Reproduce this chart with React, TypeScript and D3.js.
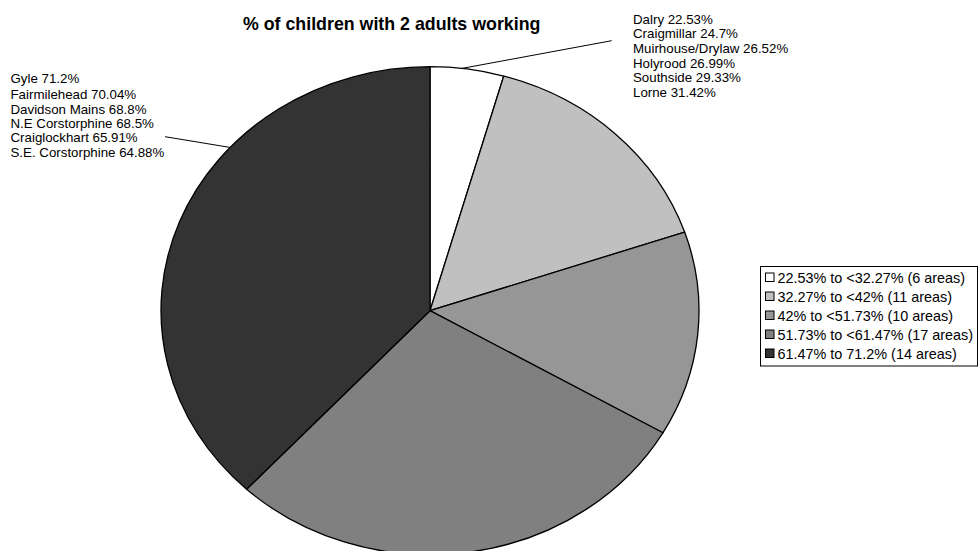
import React from "react";
import * as d3 from "d3";

const title = "% of children with 2 adults working";
const classLabels = [
  "22.53% to <32.27% (6 areas)",
  "32.27% to <42% (11 areas)",
  "42% to <51.73% (10 areas)",
  "51.73% to <61.47% (17 areas)",
  "61.47% to 71.2% (14 areas)",
];
const sliceShares = [4.42, 15.36, 13.56, 28.6, 38.06];
const classColors = ["#ffffff", "#c0c0c0", "#969696", "#808080", "#333333"];
const lowLabels = [
  "Dalry 22.53%",
  "Craigmillar 24.7%",
  "Muirhouse/Drylaw 26.52%",
  "Holyrood 26.99%",
  "Southside 29.33%",
  "Lorne 31.42%",
];
const highLabels = [
  "Gyle 71.2%",
  "Fairmilehead 70.04%",
  "Davidson Mains 68.8%",
  "N.E Corstorphine 68.5%",
  "Craiglockhart 65.91%",
  "S.E. Corstorphine 64.88%",
];

const W = 980;
const H = 551;
const cx = 430;
const cy = 310.7;
const rx = 269;
const ry = 244;
const FONT = "Liberation Sans, Arial, sans-serif";

function pt(a: number): [number, number] {
  return [cx + rx * Math.sin(a), cy - ry * Math.cos(a)];
}

export default function App() {
  const pie = d3
    .pie<number>()
    .sort(null)
    .value((d) => d)
    .startAngle(0)
    .endAngle(2 * Math.PI);
  const arcs = pie(sliceShares);

  const slicePath = (s: number, e: number) => {
    const [x0, y0] = pt(s);
    const [x1, y1] = pt(e);
    const large = e - s > Math.PI ? 1 : 0;
    return `M${cx},${cy}L${x0},${y0}A${rx},${ry} 0 ${large} 1 ${x1},${y1}Z`;
  };

  const lowAnchor = pt((arcs[0].startAngle + arcs[0].endAngle) / 2 - 0.02);
  const highAnchor = pt((312 * Math.PI) / 180);

  const legendY = d3.scaleBand<number>().domain(d3.range(classLabels.length)).range([268, 363]);

  return (
    <svg
      width={W}
      height={H}
      style={{ position: "absolute", left: 0, top: 0, display: "block", background: "#fff" }}
      fontFamily={FONT}
    >
      {arcs.map((a, i) => (
        <path
          key={i}
          d={slicePath(a.startAngle, a.endAngle)}
          fill={classColors[i]}
          stroke="#000"
          strokeWidth={1.3}
          strokeLinejoin="round"
        />
      ))}
      <text x={391.7} y={30} textAnchor="middle" fontSize={17.8} fontWeight="bold" fill="#000">
        {title}
      </text>
      <line x1={lowAnchor[0]} y1={lowAnchor[1]} x2={611.7} y2={40.7} stroke="#000" strokeWidth={1} />
      <line x1={highAnchor[0]} y1={highAnchor[1]} x2={165} y2={136.7} stroke="#000" strokeWidth={1} />
      {lowLabels.map((t, i) => (
        <text key={t} x={633} y={23.5 + i * 14.7} fontSize={13.3} fill="#000">
          {t}
        </text>
      ))}
      {highLabels.map((t, i) => (
        <text key={t} x={10.5} y={i === 0 ? 83.3 : 99.3 + (i - 1) * 14.35} fontSize={13.3} fill="#000">
          {t}
        </text>
      ))}
      <rect x={760.5} y={266.5} width={217} height={99.5} fill="#fff" stroke="#000" strokeWidth={1} />
      {classLabels.map((t, i) => {
        const y = (legendY(i) as number) + legendY.bandwidth() / 2;
        return (
          <g key={t}>
            <rect x={765.5} y={y - 4.5} width={8.5} height={8.5} fill={classColors[i]} stroke="#000" strokeWidth={1} />
            <text x={777.5} y={y + 5.2} fontSize={14.4} fill="#000">
              {t}
            </text>
          </g>
        );
      })}
    </svg>
  );
}
